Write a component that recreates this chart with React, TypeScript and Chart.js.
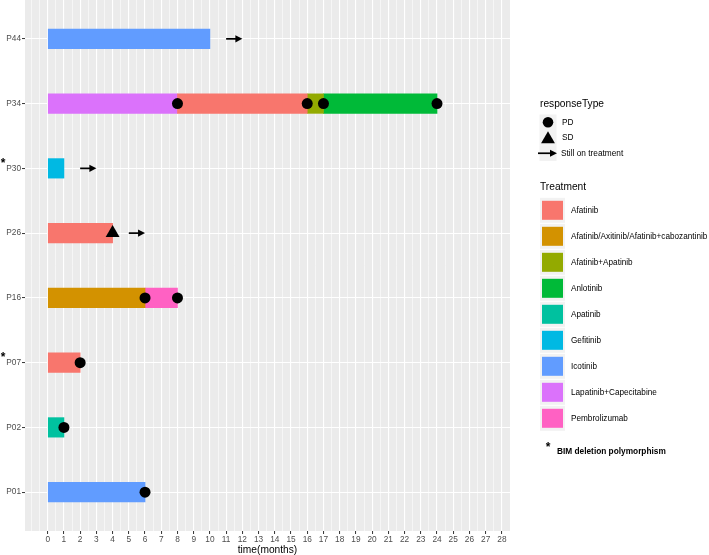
import { useEffect, useRef } from 'react';
import { Chart, registerables } from 'chart.js';

Chart.register(...registerables);

const patients = ['P44', 'P34', 'P30', 'P26', 'P16', 'P07', 'P02', 'P01'];
const bimPatients = ['P30', 'P07'];
const treatments = [
  'Afatinib',
  'Afatinib/Axitinib/Afatinib+cabozantinib',
  'Afatinib+Apatinib',
  'Anlotinib',
  'Apatinib',
  'Gefitinib',
  'Icotinib',
  'Lapatinib+Capecitabine',
  'Pembrolizumab',
];
const treatmentColors = ['#F8766D', '#D39200', '#93AA00', '#00BA38', '#00C19F', '#00B9E3', '#619CFF', '#DB72FB', '#FF61C3'];

const segPatient = ['P44', 'P34', 'P34', 'P34', 'P34', 'P30', 'P26', 'P16', 'P16', 'P07', 'P02', 'P01'];
const segTreatment = [
  'Icotinib',
  'Lapatinib+Capecitabine',
  'Afatinib',
  'Afatinib+Apatinib',
  'Anlotinib',
  'Gefitinib',
  'Afatinib',
  'Afatinib/Axitinib/Afatinib+cabozantinib',
  'Pembrolizumab',
  'Afatinib',
  'Apatinib',
  'Icotinib',
];
const segStart = [0, 0, 8, 16, 17, 0, 0, 0, 6, 0, 0, 0];
const segEnd = [10, 8, 16, 17, 24, 1, 4, 6, 8, 2, 1, 6];

const pdPatient = ['P34', 'P34', 'P34', 'P34', 'P16', 'P16', 'P07', 'P02', 'P01'];
const pdTime = [8, 16, 17, 24, 6, 8, 2, 1, 6];
const sdPatient = ['P26'];
const sdTime = [4];
const arrowPatient = ['P44', 'P30', 'P26'];
const arrowFrom = [11, 2, 5];
const arrowTo = [12, 3, 6];

const xTickLabels = [0, 1, 2, 3, 4, 5, 6, 7, 8, 9, 10, 11, 12, 13, 14, 15, 16, 17, 18, 19, 20, 21, 22, 23, 24, 25, 26, 27, 28];
const xMin = -1.4;
const xMax = 28.5;

const FONT = '"Liberation Sans", Arial, Helvetica, sans-serif';

function drawArrow(ctx: CanvasRenderingContext2D, x1: number, x2: number, y: number) {
  ctx.save();
  ctx.strokeStyle = '#000';
  ctx.fillStyle = '#000';
  ctx.lineWidth = 1.7;
  ctx.beginPath();
  ctx.moveTo(x1, y);
  ctx.lineTo(x2 - 5, y);
  ctx.stroke();
  ctx.beginPath();
  ctx.moveTo(x2, y);
  ctx.lineTo(x2 - 7, y - 3.6);
  ctx.lineTo(x2 - 7, y + 3.6);
  ctx.closePath();
  ctx.fill();
  ctx.restore();
}

const decorPlugin = {
  id: 'decor',
  beforeDraw(chart: any) {
    const { ctx, chartArea } = chart;
    ctx.save();
    ctx.fillStyle = '#EBEBEB';
    ctx.fillRect(chartArea.left, chartArea.top, chartArea.right - chartArea.left, chartArea.bottom - chartArea.top);
    ctx.restore();
  },
  afterDatasetsDraw(chart: any) {
    const { ctx } = chart;
    const xs = chart.scales.x;
    const ys = chart.scales.y;
    arrowPatient.forEach((p, i) => {
      const y = ys.getPixelForValue(patients.indexOf(p));
      drawArrow(ctx, xs.getPixelForValue(arrowFrom[i]), xs.getPixelForValue(arrowTo[i]), y);
    });
  },
  afterDraw(chart: any) {
    const { ctx } = chart;
    const ys = chart.scales.y;
    ctx.save();
    // asterisks beside patient labels
    ctx.fillStyle = '#000';
    ctx.textAlign = 'center';
    ctx.textBaseline = 'middle';
    ctx.font = `bold 12px ${FONT}`;
    bimPatients.forEach((p) => {
      const y = ys.getPixelForValue(patients.indexOf(p));
      ctx.fillText('*', 3, y - 4.5);
    });

    // responseType legend
    ctx.textAlign = 'left';
    ctx.font = `10.2px ${FONT}`;
    ctx.fillStyle = '#000';
    ctx.fillText('responseType', 540, 104);
    const keyTops = [114.5, 130, 145.5];
    ctx.fillStyle = '#F2F2F2';
    keyTops.forEach((t) => ctx.fillRect(539.5, t, 17, 15.5));
    const c = keyTops.map((t) => t + 7.75);
    ctx.fillStyle = '#000';
    ctx.beginPath();
    ctx.arc(548, c[0], 5.3, 0, Math.PI * 2);
    ctx.fill();
    const r = 8;
    ctx.beginPath();
    ctx.moveTo(548, c[1] + 1.5 - r);
    ctx.lineTo(548 + r * 0.866, c[1] + 1.5 + r / 2);
    ctx.lineTo(548 - r * 0.866, c[1] + 1.5 + r / 2);
    ctx.closePath();
    ctx.fill();
    drawArrow(ctx, 538, 557, c[2]);
    ctx.font = `8.3px ${FONT}`;
    ctx.fillText('PD', 562, c[0]);
    ctx.fillText('SD', 562, c[1]);
    ctx.fillText('Still on treatment', 561, c[2]);

    // Treatment legend
    ctx.font = `10.2px ${FONT}`;
    ctx.fillText('Treatment', 540, 187);
    treatments.forEach((t, i) => {
      const cy = 210.3 + i * 26;
      ctx.fillStyle = '#F2F2F2';
      ctx.fillRect(540, cy - 12.5, 25, 25);
      ctx.fillStyle = treatmentColors[i];
      ctx.fillRect(542, cy - 9.5, 21, 19);
      ctx.fillStyle = '#000';
      ctx.font = `8.2px ${FONT}`;
      ctx.fillText(t, 571, cy);
    });

    // BIM note
    ctx.font = `bold 12px ${FONT}`;
    ctx.textAlign = 'center';
    ctx.fillText('*', 548, 448);
    ctx.textAlign = 'left';
    ctx.font = `bold 8.3px ${FONT}`;
    ctx.fillText('BIM deletion polymorphism', 557, 451.5);
    ctx.restore();
  },
};

export default function App() {
  const ref = useRef<HTMLCanvasElement>(null);

  useEffect(() => {
    if (!ref.current) return;

    const barDatasets = treatments.map((t, ti) => ({
      type: 'bar' as const,
      label: t,
      indexAxis: 'y' as const,
      data: segTreatment
        .map((st, i) => ({ st, i }))
        .filter((o) => o.st === t)
        .map((o) => ({ x: [segStart[o.i], segEnd[o.i]], y: patients.indexOf(segPatient[o.i]) })),
      backgroundColor: treatmentColors[ti],
      borderWidth: 0,
      barThickness: 19.5,
      grouped: false,
      order: 2,
    }));

    const pdDataset = {
      type: 'scatter' as const,
      label: 'PD',
      data: pdTime.map((v, i) => ({ x: v, y: patients.indexOf(pdPatient[i]) })),
      pointStyle: 'circle',
      pointRadius: 5.5,
      pointHoverRadius: 5.5,
      backgroundColor: '#000',
      borderWidth: 0,
      order: 0,
    };
    const sdDataset = {
      type: 'scatter' as const,
      label: 'SD',
      data: sdTime.map((v, i) => ({ x: v, y: patients.indexOf(sdPatient[i]) })),
      pointStyle: 'triangle',
      pointRadius: 8,
      pointHoverRadius: 8,
      backgroundColor: '#000',
      borderWidth: 0,
      order: 0,
    };

    const chart = new Chart(ref.current, {
      type: 'bar',
      data: { datasets: [...barDatasets, pdDataset, sdDataset] as any },
      options: {
        indexAxis: 'y',
        animation: false,
        responsive: false,
        maintainAspectRatio: false,
        layout: { autoPadding: false, padding: { left: 0, right: 199, top: 0, bottom: 0 } },
        plugins: { legend: { display: false }, tooltip: { enabled: false } },
        scales: {
          x: {
            type: 'linear',
            min: xMin,
            max: xMax,
            offset: false,
            afterBuildTicks: (s: any) => {
              const t: any[] = [];
              for (let v = -1; v <= 28.5; v += 0.5) t.push({ value: v });
              s.ticks = t;
            },
            afterFit: (s: any) => {
              s.height = 24;
              s.paddingLeft = 0;
              s.paddingRight = 0;
            },
            border: { display: false },
            grid: {
              offset: false,
              color: '#FFFFFF',
              lineWidth: (ctx: any) => (xTickLabels.includes(ctx.tick?.value) ? 1.1 : 0.55),
              tickColor: (ctx: any) => (xTickLabels.includes(ctx.tick?.value) ? '#333333' : 'rgba(0,0,0,0)'),
              tickLength: 3,
              tickWidth: 1,
            },
            ticks: {
              autoSkip: false,
              maxRotation: 0,
              minRotation: 0,
              padding: 1,
              color: '#4D4D4D',
              font: { family: FONT, size: 8.3 },
              callback: (v: any) => (xTickLabels.includes(v) ? String(v) : ''),
            },
            title: {
              display: true,
              text: 'time(months)',
              color: '#000',
              font: { family: FONT, size: 10.2, lineHeight: 1.0 },
              padding: { top: 0, bottom: 0 },
            },
          },
          y: {
            type: 'linear',
            reverse: true,
            min: -0.6,
            max: 7.6,
            offset: false,
            afterBuildTicks: (s: any) => {
              s.ticks = patients.map((_, i) => ({ value: i }));
            },
            afterFit: (s: any) => {
              s.width = 25;
              s.paddingTop = 0;
              s.paddingBottom = 0;
            },
            border: { display: false },
            grid: {
              offset: false,
              color: '#FFFFFF',
              lineWidth: 1.1,
              tickColor: '#333333',
              tickLength: 3,
              tickWidth: 1,
            },
            ticks: {
              autoSkip: false,
              padding: 1,
              color: '#4D4D4D',
              font: { family: FONT, size: 8.3 },
              callback: (v: any) => patients[v] ?? '',
            },
          },
        },
      } as any,
      plugins: [decorPlugin],
    });

    return () => chart.destroy();
  }, []);

  return (
    <div style={{ position: 'fixed', left: 0, top: 0, width: 709, height: 555, background: '#fff' }}>
      <canvas ref={ref} width={709} height={555} style={{ display: 'block' }} />
    </div>
  );
}
